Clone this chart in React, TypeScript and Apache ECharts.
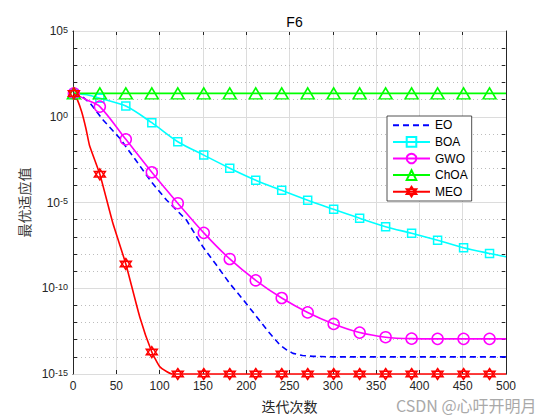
import React, { useEffect, useRef } from 'react';
import * as echarts from 'echarts';

// ---- data (iteration, best fitness) ----
const markerIters = [1, 31, 61, 91, 121, 151, 181, 211, 241, 271, 301, 331, 361, 391, 421, 451, 481];

const eoIters = [1, 10, 20, 35, 54, 72, 90, 108, 131, 150, 165, 181, 197, 212, 225, 239, 247, 254, 265, 277, 300, 350, 400, 450, 500];
const eoVals = [23, 16, 6, 0.63, 0.056, 3.2e-3, 1.7e-4, 1.4e-5, 9.5e-7, 2.6e-8, 2.5e-9, 1.9e-10, 2e-11, 2.2e-12, 3.2e-13, 4.9e-14, 2.5e-14, 1.6e-14, 1.2e-14, 1.07e-14, 1.0e-14, 1.0e-14, 1.0e-14, 1.0e-14, 1.0e-14];

const boaIters = [1, 16, 31, 61, 91, 121, 151, 181, 211, 241, 271, 301, 331, 361, 391, 421, 451, 481, 500];
const boaVals = [23, 19, 12, 4.2, 0.45, 0.035, 5.8e-3, 1e-3, 2e-4, 5.1e-5, 1.35e-5, 4e-6, 1.2e-6, 3.9e-7, 1.6e-7, 6.3e-8, 2.3e-8, 1.07e-8, 6.9e-9];

const gwoIters = [1, 16, 31, 61, 91, 121, 151, 181, 211, 241, 271, 301, 331, 361, 391, 421, 451, 481, 500];
const gwoVals = [23, 9.5, 3.9, 0.048, 5.8e-4, 9.1e-6, 1.7e-7, 5.1e-9, 2.9e-10, 2.7e-11, 3.9e-12, 8.3e-13, 2.6e-13, 1.4e-13, 1.15e-13, 1.12e-13, 1.12e-13, 1.12e-13, 1.12e-13];

const choaIters = [1, 31, 61, 91, 121, 151, 181, 211, 241, 271, 301, 331, 361, 391, 421, 451, 481, 500];
const choaVals = [23, 23, 23, 23, 23, 23, 23, 23, 23, 23, 23, 23, 23, 23, 23, 23, 23, 23];

const meoIters = [1, 5, 10, 15, 19, 31, 46, 61, 77, 91, 100, 108, 115, 121, 151, 181, 211, 241, 271, 301, 331, 361, 391, 421, 451, 481, 500];
const meoVals = [23, 10, 1.95, 0.2, 0.022, 4.4e-4, 6.3e-7, 2.6e-9, 2.2e-12, 1.9e-14, 2.7e-15, 1.4e-15, 1e-15, 1e-15, 1e-15, 1e-15, 1e-15, 1e-15, 1e-15, 1e-15, 1e-15, 1e-15, 1e-15, 1e-15, 1e-15, 1e-15, 1e-15];

const xTickMin = 0;
const xTickMax = 500;
const yMin = 1e-15;
const yMax = 1e5;

const FONT = '"Liberation Sans", Arial, sans-serif';
const CJK = '"Noto Sans CJK SC", sans-serif';
const AX = '#262626';
const HEX = 'path://M0,-10L8.66,5L-8.66,5Z M0,10L-8.66,-5L8.66,-5Z';

function pairs(xs: number[], ys: number[]) {
  return xs.map((x, i) => [x, ys[i]]);
}

function mkSeries(name: string, xs: number[], ys: number[], color: string, symbol: string, size: any, dashed = false, smooth: any = false) {
  return {
    name,
    type: 'line',
    xAxisIndex: 0,
    yAxisIndex: 0,
    data: pairs(xs, ys),
    symbol,
    symbolSize: (v: number[]) => (markerIters.includes(v[0]) ? size : 0),
    showAllSymbol: true,
    clip: false,
    smooth,
    lineStyle: { color, width: 1.6, type: dashed ? [6, 4] : 'solid' },
    itemStyle: { color: 'rgba(255,255,255,0)', borderColor: color, borderWidth: dashed ? 0 : 1.5 },
    emphasis: { disabled: true },
  };
}

export default function App() {
  const ref = useRef<HTMLDivElement>(null);
  useEffect(() => {
    if (!ref.current) return;
    const chart = echarts.init(ref.current, undefined, { renderer: 'svg' });
    const supFmt = (v: number) => `{b|10}{s|${Math.round(Math.log10(v))}}`;
    const option: any = {
      animation: false,
      backgroundColor: '#ffffff',
      title: {
        text: 'F6',
        left: 289.5,
        top: 10,
        textAlign: 'center',
        textStyle: { fontFamily: FONT, fontSize: 14, fontWeight: 'normal', color: '#000' },
      },
      grid: { left: 73, right: 54, top: 31, bottom: 46 },
      legend: {
        orient: 'vertical',
        left: 387,
        top: 116,
        itemWidth: 37,
        itemHeight: 12,
        itemGap: 4.6,
        padding: [3.3, 4, 3.3, 5],
        backgroundColor: '#ffffff',
        borderColor: AX,
        borderWidth: 0.8,
        borderRadius: 0,
        textStyle: { fontFamily: FONT, fontSize: 12, color: '#000' },
        data: ['EO', 'BOA', 'GWO', 'ChOA', 'MEO'],
      },
      xAxis: [
        {
          type: 'value', min: xTickMin, max: xTickMax, interval: 50, position: 'bottom',
          name: '迭代次数', nameLocation: 'middle', nameGap: 25,
          nameTextStyle: { fontFamily: CJK, fontSize: 14, color: AX },
          axisLine: { show: true, onZero: false, lineStyle: { color: AX, width: 1 } },
          axisTick: { show: true, inside: true, length: 4, lineStyle: { color: AX } },
          axisLabel: { fontFamily: FONT, fontSize: 12, color: AX, margin: 6 },
          splitLine: { show: true, lineStyle: { color: '#dcdcdc', width: 1 } },
        },
        {
          type: 'value', min: xTickMin, max: xTickMax, interval: 50, position: 'top',
          axisLine: { show: true, onZero: false, lineStyle: { color: AX, width: 1 } },
          axisTick: { show: true, inside: true, length: 4, lineStyle: { color: AX } },
          axisLabel: { show: false },
          splitLine: { show: false },
        },
      ],
      yAxis: [
        {
          type: 'log', logBase: 10, min: yMin, max: yMax, interval: 5, position: 'left',
          name: '最优适应值', nameLocation: 'middle', nameGap: 40, nameRotate: 90,
          nameTextStyle: { fontFamily: CJK, fontSize: 14, color: '#3a3a3a' },
          axisLine: { show: true, onZero: false, lineStyle: { color: AX, width: 1 } },
          axisTick: { show: false },
          axisLabel: {
            formatter: supFmt, margin: 5,
            rich: {
              b: { fontFamily: FONT, fontSize: 12, color: AX },
              s: { fontFamily: FONT, fontSize: 9, color: AX, verticalAlign: 'top' },
            },
          },
          splitLine: { show: true, lineStyle: { color: '#dcdcdc', width: 1 } },
          z: 3,
        },
        {
          type: 'log', logBase: 10, min: yMin, max: yMax, interval: 1, position: 'left',
          axisLine: { show: false, onZero: false },
          axisTick: { show: true, inside: true, length: 4, lineStyle: { color: AX } },
          axisLabel: { show: false },
          splitLine: { show: true, lineStyle: { color: '#bdbdbd', width: 1, type: [1, 3] } },
          z: 2,
        },
        {
          type: 'log', logBase: 10, min: yMin, max: yMax, interval: 1, position: 'right',
          axisLine: { show: true, onZero: false, lineStyle: { color: AX, width: 1 } },
          axisTick: { show: true, inside: true, length: 4, lineStyle: { color: AX } },
          axisLabel: { show: false },
          splitLine: { show: false },
        },
      ],
      graphic: [
        {
          type: 'text', left: 396, top: 397, z: 100,
          style: { text: 'CSDN @心吁开明月', fontSize: 16, fontFamily: CJK, fill: '#a9a9a9' },
        },
      ],
      series: [
        mkSeries('EO', eoIters, eoVals, '#0000ff', 'circle', 0, true),
        mkSeries('BOA', boaIters, boaVals, '#00ffff', 'rect', 8, false, 0.3),
        mkSeries('GWO', gwoIters, gwoVals, '#ff00ff', 'circle', 11, false, 0.3),
        mkSeries('ChOA', choaIters, choaVals, '#00ff00', 'triangle', [13, 11]),
        mkSeries('MEO', meoIters, meoVals, '#ff0000', HEX, 11, false, 0.15),
      ],
    };
    chart.setOption(option);
    return () => chart.dispose();
  }, []);
  return <div ref={ref} style={{ position: 'absolute', left: 0, top: 0, width: 560, height: 420 }} />;
}
